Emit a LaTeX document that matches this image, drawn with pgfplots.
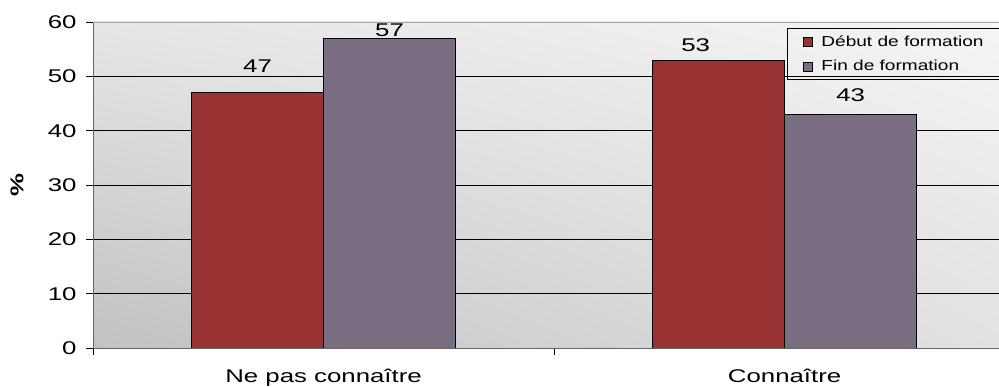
\documentclass[border=0pt]{standalone}
\usepackage{fontspec}
\setmainfont[FakeStretch=1.4]{Liberation Sans}
\newfontfamily\legfont[FakeStretch=1.32]{Liberation Sans}
\usepackage{pgfplots}
\pgfplotsset{compat=1.18}
\usepackage{pgfplotstable}
\usetikzlibrary{shadings}
\definecolor{bred}{RGB}{153,51,51}
\definecolor{bpur}{RGB}{122,110,130}
\definecolor{bgLL}{gray}{0.76}
\definecolor{bgUL}{gray}{0.90}
\definecolor{bgUR}{gray}{0.96}
\definecolor{bgLR}{gray}{0.885}

\pgfplotstableread{
x y off xoff
0 47 20 0
1 53 8.3 -23
}\debut
\pgfplotstableread{
x y off xoff
0 57 1.3 0
1 43 11.7 0
}\fin

\begin{document}
\begin{tikzpicture}
\begin{axis}[
  at={(93bp,39bp)}, anchor=south west,
  scale only axis, width=906bp, height=326bp,
  xmin=-0.5, xmax=1.465, ymin=0, ymax=60,
  ybar=0pt, bar width=132bp,
  axis background/.style={shade, lower left=bgLL, upper left=bgUL, upper right=bgUR, lower right=bgLR},
  axis x line*=bottom, axis y line*=left,
  axis line style={draw=gray!80!black, line width=0.8bp},
  tick align=outside, major tick length=7bp,
  tick style={draw=black, line width=0.8bp},
  xtick={-0.5,0.5,1.5}, xticklabels={},
  extra x ticks={0,1},
  extra x tick labels={Ne pas connaître, Connaître},
  extra x tick style={major tick length=0pt, tick label style={yshift=-18bp}},
  ytick={0,10,...,50},
  extra y ticks={60},
  extra y tick style={grid style={draw=gray!70, line width=0.8bp}},
  ymajorgrids,
  grid style={draw=black, line width=0.8bp},
  /pgf/number format/assume math mode=true,
  tick label style={font=\fontsize{18.5}{20}\selectfont},
  y tick label style={xshift=-6bp},
  ylabel={\textbf{\%}},
  ylabel style={at={(axis description cs:-0.0839,0.5)}, anchor=center, font=\fontsize{18.5}{20}\selectfont},
  legend style={at={(axis description cs:0.766,0.9816)}, anchor=north west,
    draw=black, fill=none, line width=0.8bp,
    font=\legfont\fontsize{14.5}{16}\selectfont,
    row sep=9bp, inner xsep=0bp, inner ysep=5bp},
  legend cell align=left,
  legend image code/.code={\path[draw=none, fill=none] (0bp,0bp) -- (32bp,0bp); \draw[#1, draw=black, line width=0.8bp] (16bp,-4.5bp) rectangle (25bp,4.5bp);},
  nodes near coords,
  visualization depends on={\thisrow{off} \as \myoff},
  visualization depends on={\thisrow{xoff} \as \myxoff},
  nodes near coords style={font=\fontsize{18.5}{20}\selectfont, inner sep=0pt, anchor=south, yshift=\myoff bp, xshift=\myxoff bp, text=black},
]
\addplot[fill=bred, draw=black, line width=1bp] table[x=x, y=y] {\debut};
\addplot[fill=bpur, draw=black, line width=1bp] table[x=x, y=y] {\fin};
\legend{Début de formation\rule{25bp}{0pt}, Fin de formation}
\end{axis}
\pgfresetboundingbox
\useasboundingbox (0,0) rectangle (999bp,387bp);
\end{tikzpicture}
\end{document}
